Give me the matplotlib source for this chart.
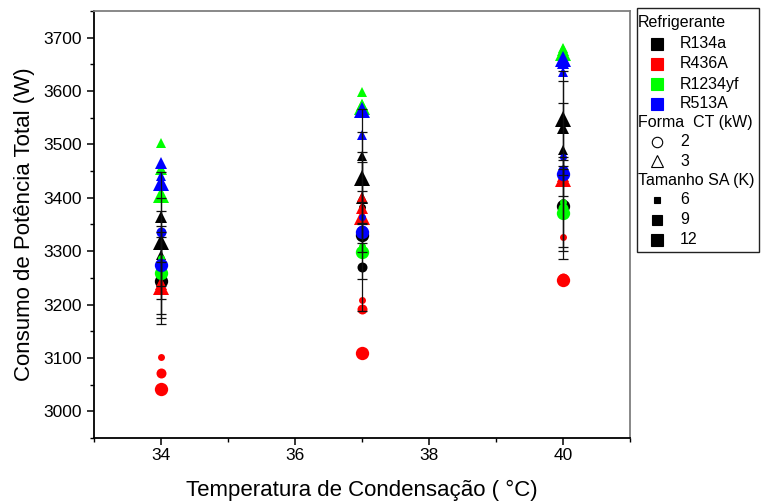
import matplotlib
matplotlib.use("Agg")
import matplotlib.pyplot as plt
from matplotlib.lines import Line2D
from matplotlib.patches import Rectangle
from matplotlib.ticker import MultipleLocator

plt.rcParams["font.family"] = ["Liberation Sans", "DejaVu Sans"]

# condensing temperatures (x)
temps = [34, 37, 40]
refrigerants = ["R134a", "R436A", "R1234yf", "R513A"]
ref_colors = ["#000000", "#ff0000", "#00ff00", "#0000ff"]
ct_values = ["2", "3"]          # Forma CT (kW)
sa_values = ["6", "9", "12"]    # Tamanho SA (K)

# power [W] per temperature -> [CT 2 (SA 6, 9, 12), CT 3 (SA 6, 9, 12)]
r134a = [
    [[3265, 3255, 3245], [3293, 3364, 3317]],
    [[3383, 3270, 3330], [3479, 3400, 3437]],
    [[3392, 3370, 3385], [3490, 3531, 3548]],
]
r436a = [
    [[3101, 3071, 3041], [3242, 3238, 3233]],
    [[3208, 3191, 3109], [3402, 3380, 3364]],
    [[3327, 3250, 3246], [3434, 3440, 3436]],
]
r1234yf = [
    [[3287, 3270, 3260], [3503, 3454, 3405]],
    [[3310, 3300, 3299], [3599, 3574, 3570]],
    [[3392, 3380, 3372], [3680, 3677, 3672]],
]
r513a = [
    [[3336, 3336, 3274], [3440, 3465, 3428]],
    [[3364, 3340, 3336], [3518, 3560, 3565]],
    [[3477, 3452, 3445], [3636, 3653, 3660]],
]
# error bars drawn on the R134a points
r134a_err = [
    [[82, 81, 81], [82, 84, 83]],
    [[85, 82, 83], [87, 85, 86]],
    [[85, 84, 85], [87, 88, 89]],
]

all_data = [r134a, r436a, r1234yf, r513a]
ct_markers = ["o", "^"]
circle_ms = [5, 7.2, 9.6]
tri_ms = [6.5, 9, 12]

fig = plt.figure(figsize=(7.61, 5.04), dpi=100)
W, H = 761, 504
ax = fig.add_axes([94 / W, (H - 438) / H, (630 - 94) / W, (438 - 11) / H])

for data, col in zip(all_data, ref_colors):
    for ti, t in enumerate(temps):
        for ci, mk in enumerate(ct_markers):
            sizes = circle_ms if mk == "o" else tri_ms
            for si in range(len(sa_values)):
                ax.plot(t, data[ti][ci][si], marker=mk, ms=sizes[si],
                        color=col, mec=col, mew=0, linestyle="none", zorder=3)

# error bars
for ti, t in enumerate(temps):
    for ci in range(2):
        for si in range(3):
            ax.errorbar(t, r134a[ti][ci][si], yerr=r134a_err[ti][ci][si],
                        fmt="none", ecolor="#111111", elinewidth=0.9,
                        capsize=3.5, capthick=0.9, zorder=5)

ax.set_xlim(33, 41)
ax.set_ylim(2950, 3750)
ax.xaxis.set_major_locator(MultipleLocator(2))
ax.xaxis.set_minor_locator(MultipleLocator(1))
ax.yaxis.set_major_locator(MultipleLocator(100))
ax.yaxis.set_minor_locator(MultipleLocator(50))
ax.tick_params(which="major", direction="out", length=5, width=1.1,
               labelsize=12.5, top=False, right=False)
ax.tick_params(axis="x", which="major", pad=2.5)
ax.tick_params(which="minor", direction="out", length=3, width=1.0,
               top=False, right=False)
for s in ["left", "bottom"]:
    ax.spines[s].set_linewidth(1.3)
    ax.spines[s].set_color("black")
for s in ["top", "right"]:
    ax.spines[s].set_linewidth(1.3)
    ax.spines[s].set_color("#7f7f7f")

ax.set_xlabel("Temperatura de Condensação ( °C)", fontsize=16, labelpad=12)
ax.set_ylabel("Consumo de Potência Total (W)", fontsize=16, labelpad=6)

# manual legend box outside the axes (figure pixel coords)
def fx(px):
    return px / W

def fy(py):
    return 1 - py / H

fig.add_artist(Rectangle((fx(637), fy(252)), fx(759) - fx(637), fy(8) - fy(252),
                         transform=fig.transFigure, fill=False,
                         edgecolor="#222222", lw=1.0))

lfs = 11.5
def header(txt, py):
    fig.text(fx(638), fy(py), txt, fontsize=lfs, va="center", ha="left")

def entry(txt, py, marker, ms, face, edge="black"):
    fig.add_artist(Line2D([fx(657)], [fy(py)], marker=marker, ms=ms,
                          mfc=face, mec=edge, mew=0.8, linestyle="none",
                          transform=fig.transFigure))
    fig.text(fx(680), fy(py), txt, fontsize=lfs, va="center", ha="left")

header("Refrigerante", 23)
for i, (name, col) in enumerate(zip(refrigerants, ref_colors)):
    entry(name, 44 + 20 * i, "s", 8, col, col)
header("Forma  CT (kW)", 122)
entry(ct_values[0], 142, "o", 7.5, "none")
entry(ct_values[1], 161, "^", 9, "none")
header("Tamanho SA (K)", 180)
sa_ms = [4.5, 6.5, 8.5]
for i, sa in enumerate(sa_values):
    entry(sa, 200 + 20 * i, "s", sa_ms[i], "black")

fig.savefig("out.png", dpi=100)
